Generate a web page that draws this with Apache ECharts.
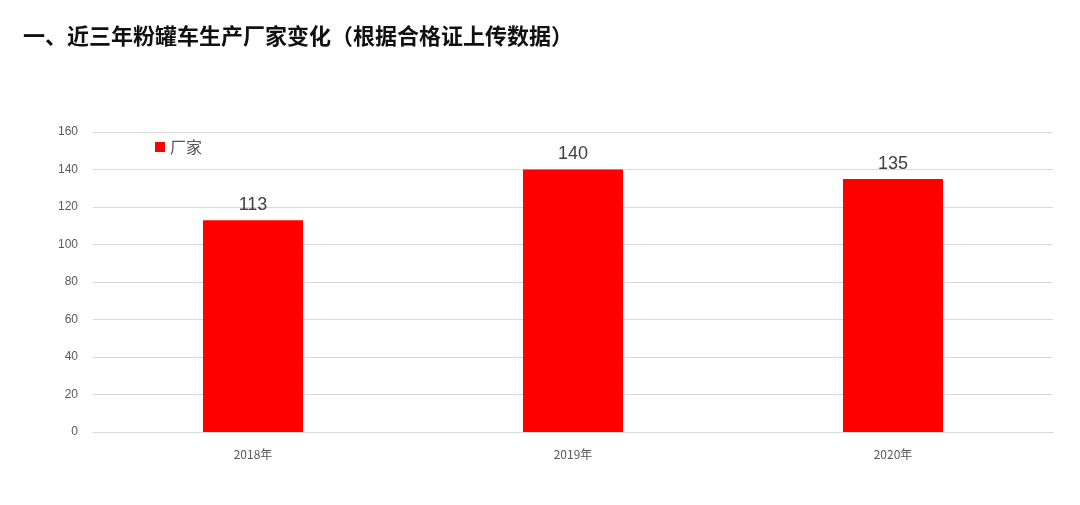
<!DOCTYPE html>
<html><head><meta charset="utf-8">
<script src="https://cdn.jsdelivr.net/npm/echarts@6/dist/echarts.min.js"></script>
<style>html,body{margin:0;padding:0;background:#fff}#c{width:1080px;height:505px}</style>
</head><body><div id="c"></div>
<script>
const categories = ['2018年', '2019年', '2020年'];
const values = [113, 140, 135];
const yTicks = { min: 0, max: 160, interval: 20 };
const seriesName = '厂家';
const titleText = '一、近三年粉罐车生产厂家变化（根据合格证上传数据）';

const chart = echarts.init(document.getElementById('c'));
chart.setOption({
  animation: false,
  title: { text: titleText, left: 18, top: 20,
    textStyle: { fontSize: 22, fontWeight: 'bold', color: '#111', fontFamily: 'Noto Sans CJK SC' } },
  legend: { data: [seriesName], left: 150, top: 134, icon: 'rect', itemWidth: 10, itemHeight: 10, itemGap: 4,
    textStyle: { fontSize: 16, color: '#555', fontFamily: 'Noto Sans CJK SC' } },
  grid: { left: 93, right: 27, top: 132, bottom: 73 },
  xAxis: { type: 'category', data: categories,
    axisLine: { lineStyle: { color: '#d9d9d9' } }, axisTick: { show: false },
    axisLabel: { color: '#595959', fontSize: 12, margin: 16, fontFamily: 'Noto Sans CJK SC' } },
  yAxis: { type: 'value', min: yTicks.min, max: yTicks.max, interval: yTicks.interval,
    axisLine: { show: false }, axisTick: { show: false },
    axisLabel: { color: '#595959', fontSize: 12, margin: 15 },
    splitLine: { lineStyle: { color: '#d9d9d9' } } },
  series: [{ name: seriesName, type: 'bar', data: values, barWidth: 100,
    itemStyle: { color: '#ff0000' },
    label: { show: true, position: 'top', color: '#404040', fontSize: 18, distance: 6 } }]
});
</script></body></html>
